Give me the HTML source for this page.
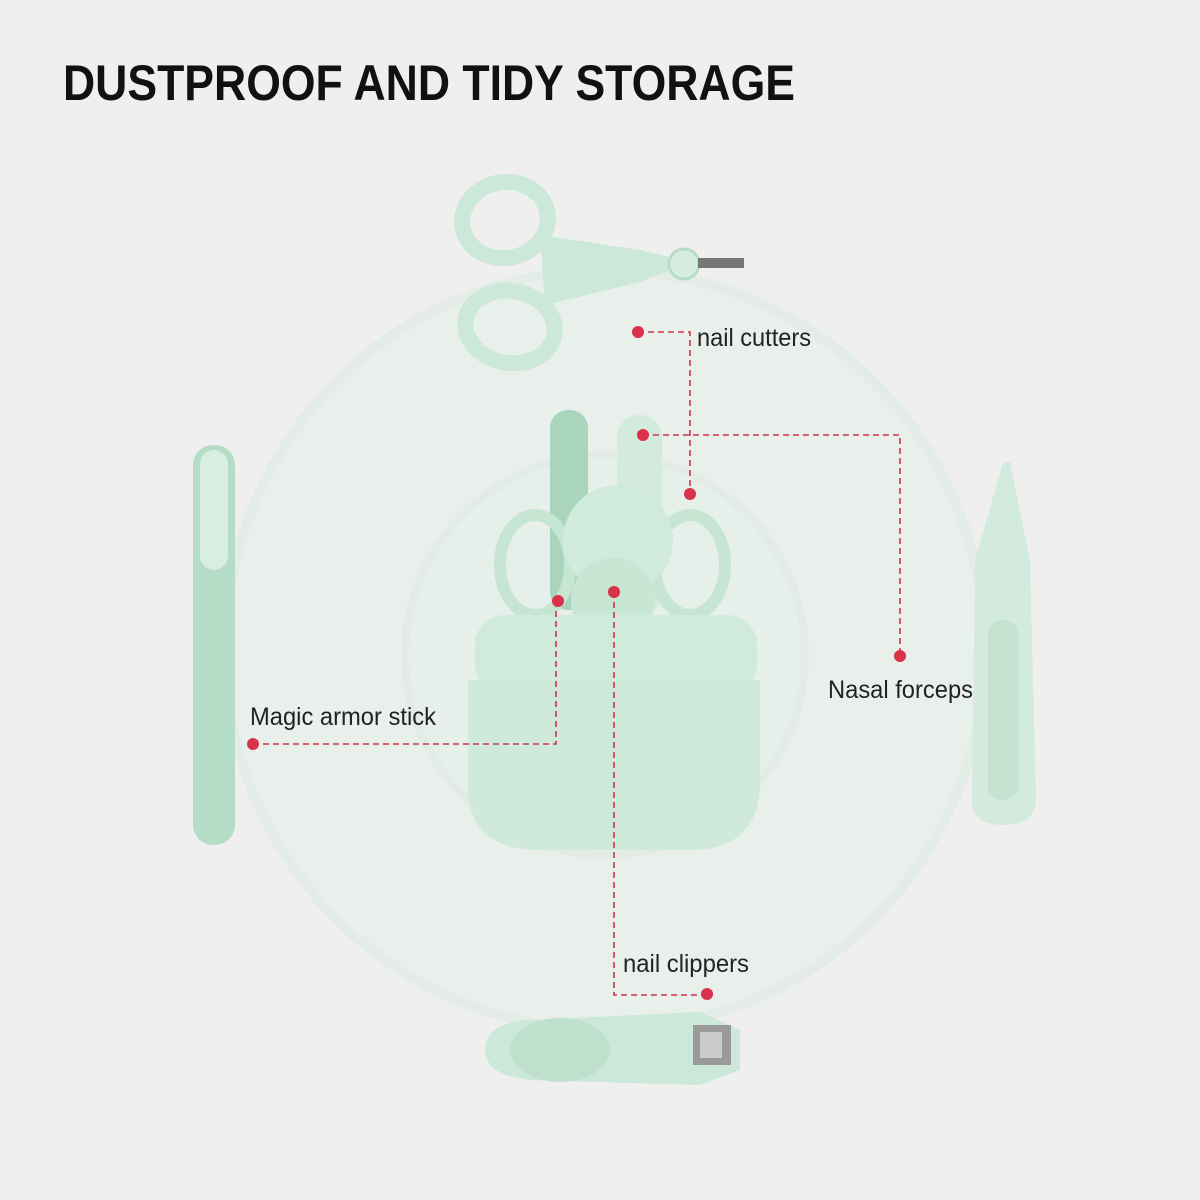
<!DOCTYPE html>
<html><head><meta charset="utf-8"><style>
html,body{margin:0;padding:0;background:#efefef;}
svg{display:block}
</style></head><body>
<svg width="1200" height="1200" viewBox="0 0 1200 1200" xmlns="http://www.w3.org/2000/svg">
<rect width="1200" height="1200" fill="#efefef"/>
<circle cx="605" cy="650" r="380" fill="#e9f0eb" stroke="#e3ece6" stroke-width="10"/>
<circle cx="605" cy="655" r="200" fill="#e6efe9" stroke="#e2ebe5" stroke-width="8"/>
<text x="63" y="100" font-family="Liberation Sans, sans-serif" font-weight="bold" font-size="50" textLength="732" lengthAdjust="spacingAndGlyphs" fill="#111">DUSTPROOF AND TIDY STORAGE</text>

<!-- scissors -->
<g fill="none" stroke="#cbe8d8" stroke-width="16">
<ellipse cx="505" cy="220" rx="43" ry="38" transform="rotate(-10 505 220)"/>
<ellipse cx="510" cy="327" rx="45" ry="36" transform="rotate(10 510 327)"/>
</g>
<path d="M540 235 L640 250 L690 262 L640 282 L545 305 Z" fill="#cbe8d8"/>
<circle cx="684" cy="264" r="15" fill="#d6eee0" stroke="#b8dcc8" stroke-width="3"/>
<rect x="698" y="258" width="46" height="10" fill="#777"/>

<!-- nail file -->
<rect x="193" y="445" width="42" height="400" rx="20" fill="#b5dcc6"/>
<rect x="200" y="450" width="28" height="120" rx="14" fill="#d8eee1"/>

<!-- forceps -->
<path d="M1003 462 L1010 462 L1030 560 L1036 800 Q1035 825 1003 825 Q972 825 972 800 L975 560 Z" fill="#d3ebdd"/>
<rect x="988" y="620" width="30" height="180" rx="14" fill="#c4e3d1"/>

<!-- clipper -->
<path d="M530 1020 L700 1012 L740 1030 L740 1070 L700 1085 L530 1080 Q485 1075 485 1050 Q485 1022 530 1020 Z" fill="#cbe8d8"/>
<ellipse cx="560" cy="1050" rx="50" ry="32" fill="#bfe0cd"/>
<rect x="693" y="1025" width="38" height="40" fill="#9a9a9a"/>
<rect x="700" y="1032" width="22" height="26" fill="#ccc"/>

<!-- box tools -->
<rect x="550" y="410" width="38" height="200" rx="18" fill="#a9d5bd"/>
<rect x="617" y="415" width="45" height="200" rx="22" fill="#d2ebdc"/>
<g fill="none" stroke="#c6e5d3" stroke-width="12">
<ellipse cx="535" cy="565" rx="35" ry="50"/>
<ellipse cx="690" cy="565" rx="35" ry="50"/>
</g>
<circle cx="618" cy="540" r="55" fill="#d0eadb"/>
<circle cx="613" cy="600" r="42" fill="#c8e6d4"/>
<!-- box -->
<rect x="475" y="615" width="282" height="80" rx="30" fill="#d0eadb"/>
<path d="M468 680 L760 680 L760 790 Q755 850 690 850 L540 850 Q470 850 468 790 Z" fill="#cfe9da"/>

<!-- connectors -->
<g fill="none" stroke="#d0344a" stroke-width="1.6" stroke-dasharray="6 4">
<path d="M638 332 H690 V494"/>
<path d="M643 435 H900 V656"/>
<path d="M253 744 H556 V601"/>
<path d="M614 592 V995 H707"/>
</g>
<g fill="#d9324a">
<circle cx="638" cy="332" r="6"/><circle cx="690" cy="494" r="6"/>
<circle cx="643" cy="435" r="6"/><circle cx="900" cy="656" r="6"/>
<circle cx="253" cy="744" r="6"/><circle cx="558" cy="601" r="6"/>
<circle cx="614" cy="592" r="6"/><circle cx="707" cy="994" r="6"/>
</g>
<g font-family="Liberation Sans, sans-serif" font-size="25" fill="#222">
<text x="697" y="346" textLength="114" lengthAdjust="spacingAndGlyphs">nail cutters</text>
<text x="828" y="698" textLength="145" lengthAdjust="spacingAndGlyphs">Nasal forceps</text>
<text x="250" y="725" textLength="186" lengthAdjust="spacingAndGlyphs">Magic armor stick</text>
<text x="623" y="972" textLength="126" lengthAdjust="spacingAndGlyphs">nail clippers</text>
</g>
</svg>
</body></html>
